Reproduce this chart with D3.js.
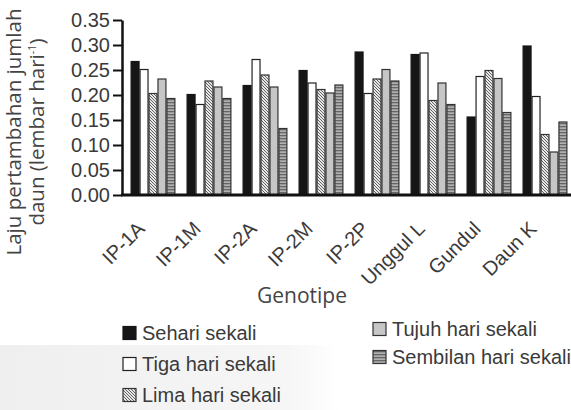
<!DOCTYPE html>
<html><head><meta charset="utf-8">
<script src="https://cdn.jsdelivr.net/npm/d3@7"></script>
<style>html,body{margin:0;padding:0;background:#fff;}svg{display:block;}</style>
</head><body>
<script>
const categories = ["IP-1A","IP-1M","IP-2A","IP-2M","IP-2P","Unggul L","Gundul","Daun K"];
const seriesNames = ["Sehari sekali","Tiga hari sekali","Lima hari sekali","Tujuh hari sekali","Sembilan hari sekali"];
const sehari   = [0.267,0.201,0.219,0.249,0.286,0.281,0.156,0.298];
const tiga     = [0.251,0.181,0.271,0.224,0.203,0.284,0.237,0.197];
const lima     = [0.203,0.228,0.240,0.211,0.232,0.189,0.249,0.121];
const tujuh    = [0.232,0.216,0.216,0.204,0.251,0.224,0.233,0.086];
const sembilan = [0.193,0.193,0.133,0.220,0.228,0.181,0.165,0.146];
const yTicks = [0,0.05,0.10,0.15,0.20,0.25,0.30,0.35];

const seriesValues = [sehari,tiga,lima,tujuh,sembilan];
const W=571,H=410;
const svg=d3.select("body").append("svg").attr("width",W).attr("height",H);
const defs=svg.append("defs");

// background tint bottom-left
const bg=defs.append("linearGradient").attr("id","bgfade").attr("x1","0").attr("x2","1").attr("y1","0").attr("y2","0");
bg.append("stop").attr("offset","0").attr("stop-color","#efefef");
bg.append("stop").attr("offset","0.85").attr("stop-color","#f6f6f6");
bg.append("stop").attr("offset","1").attr("stop-color","#ffffff");
svg.append("rect").attr("x",0).attr("y",345).attr("width",340).attr("height",65).attr("fill","url(#bgfade)");

// patterns
const pLima=defs.append("pattern").attr("id","pLima").attr("patternUnits","userSpaceOnUse").attr("width",3).attr("height",3);
pLima.append("rect").attr("width",3).attr("height",3).attr("fill","#e6e6e6");
pLima.append("path").attr("d","M-1,-1L4,4M-1,2L1,4M2,-1L4,1").attr("stroke","#555").attr("stroke-width",0.9);
const pSem=defs.append("pattern").attr("id","pSem").attr("patternUnits","userSpaceOnUse").attr("width",4).attr("height",3);
pSem.append("rect").attr("width",4).attr("height",3).attr("fill","#b0b0b0");
pSem.append("rect").attr("y",0).attr("width",4).attr("height",1.3).attr("fill","#666");

const fills=["#161616","#ffffff","url(#pLima)","#c6c6c6","url(#pSem)"];
const strokes=["#161616","#222","#333","#333","#333"];

const y=d3.scaleLinear().domain([0,0.35]).range([195,20]);
const x0=d3.scaleBand().domain(categories).range([125,573]).paddingInner(0.2).paddingOuter(0.1);
const x1=d3.scaleBand().domain(d3.range(seriesNames.length)).range([0,x0.bandwidth()]);

const g=svg.append("g");
categories.forEach((c,i)=>{
  seriesValues.forEach((vals,s)=>{
    g.append("rect")
      .attr("x",x0(c)+x1(s)+0.5)
      .attr("y",y(vals[i]))
      .attr("width",x1.bandwidth()-1)
      .attr("height",y(0)-y(vals[i]))
      .attr("fill",fills[s]).attr("stroke",strokes[s]).attr("stroke-width",1.2);
  });
});

// y axis
const ya=svg.append("g").attr("transform","translate(122,0)")
  .call(d3.axisLeft(y).tickValues(yTicks).tickFormat(d3.format(".2f")).tickSize(9).tickSizeOuter(0));
ya.select(".domain").attr("stroke","#111").attr("stroke-width",2.5);
ya.selectAll(".tick line").attr("stroke","#111").attr("stroke-width",2);
ya.selectAll(".tick text").attr("font-family","'Liberation Sans',Arial,sans-serif").attr("font-size",20).attr("fill","#3a3a3a").attr("x",-12);

// x axis line
const xa=svg.append("g").attr("transform","translate(0,195)")
  .call(d3.axisBottom(x0).tickSize(0).tickFormat(""));
xa.select(".domain").attr("d","M121,0H571").attr("stroke","#111").attr("stroke-width",3);

// x labels
svg.append("g").selectAll("text").data(categories).join("text")
  .attr("transform",d=>`translate(${x0(d)+x0.bandwidth()/2-7},230) rotate(-45)`)
  .attr("text-anchor","end")
  .attr("font-family","'Liberation Sans',Arial,sans-serif").attr("font-size",20).attr("fill","#3a3a3a")
  .text(d=>d);

// axis titles
svg.append("text").attr("x",302).attr("y",303).attr("text-anchor","middle")
  .attr("font-family","'Open Sans',sans-serif").attr("font-size",21).attr("fill","#444").text("Genotipe");
const yt=svg.append("text").attr("transform","translate(0,132) rotate(-90)").attr("text-anchor","middle")
  .attr("font-family","'Open Sans',sans-serif").attr("font-size",20.5).attr("fill","#444");
yt.append("tspan").attr("x",0).attr("y",21).text("Laju pertambahan jumlah");
const l2=yt.append("tspan").attr("x",0).attr("y",44);
l2.append("tspan").text("daun (lembar hari");
l2.append("tspan").attr("font-size",11).attr("dy",-8).text("-1");
l2.append("tspan").attr("dy",8).text(")");

// legend
const legPos=[[123,333],[123,364],[123,395],[373,329],[373,357]];
const leg=svg.append("g");
seriesNames.forEach((n,s)=>{
  const [lx,ly]=legPos[s];
  leg.append("rect").attr("x",lx).attr("y",ly-6.5).attr("width",13).attr("height",13)
    .attr("fill",fills[s]).attr("stroke",strokes[s]).attr("stroke-width",1.2);
  leg.append("text").attr("x",lx+19).attr("y",ly+7)
    .attr("font-family","'Liberation Sans',Arial,sans-serif").attr("font-size",20).attr("fill","#3a3a3a").text(n);
});
</script>
</body></html>
